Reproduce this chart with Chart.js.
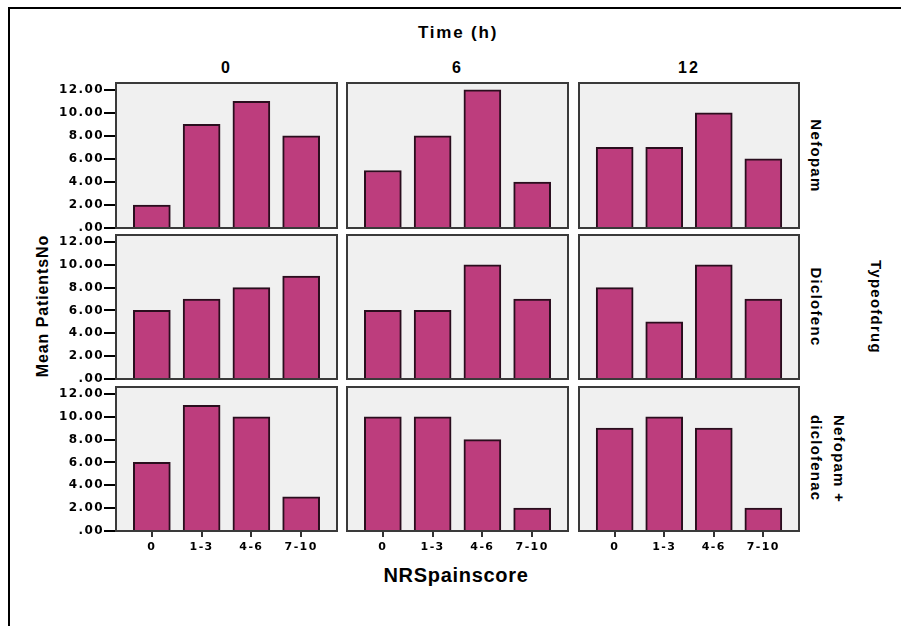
<!DOCTYPE html>
<html><head><meta charset="utf-8">
<script src="https://cdn.jsdelivr.net/npm/chart.js@4"></script>
<style>
html,body{margin:0;padding:0;background:#fff}
body{width:901px;height:626px;overflow:hidden;position:relative;font-family:"Liberation Sans",Arial,sans-serif;font-weight:bold;color:#000}
.frame{position:absolute;left:8px;top:7px;width:900px;height:640px;border-top:2px solid #000;border-left:2px solid #000}
.t{position:absolute;white-space:nowrap;transform:translate(-50%,-50%);line-height:1}
canvas{position:absolute}
</style></head><body>
<div class="frame"></div>
<div id="texts"></div>
<script>
// ---- data ----
const categories = ['0', '1-3', '4-6', '7-10'];
const timeLabels = ['0', '6', '12'];
const drugLabels = ['Nefopam', 'Diclofenc', 'Nefopam +\ndiclofenac'];
const nefopam0 = [2, 9, 11, 8];
const nefopam6 = [5, 8, 12, 4];
const nefopam12 = [7, 7, 10, 6];
const diclofenac0 = [6, 7, 8, 9];
const diclofenac6 = [6, 6, 10, 7];
const diclofenac12 = [8, 5, 10, 7];
const combo0 = [6, 11, 10, 3];
const combo6 = [10, 10, 8, 2];
const combo12 = [9, 10, 9, 2];
const yTicks = [0, 2, 4, 6, 8, 10, 12];
const yTickLabels = ['.00', '2.00', '4.00', '6.00', '8.00', '10.00', '12.00'];
const panelValues = [
  [nefopam0, nefopam6, nefopam12],
  [diclofenac0, diclofenac6, diclofenac12],
  [combo0, combo6, combo12]
];

// ---- layout ----
const colX = [116, 347, 579], colW = [221, 221, 220];
const rowY = [83, 235, 387], rowH = [145, 144, 144];
const PAD = 10, YW = 72, XH = 32;
const BAR = '#bd3d7d', BAR_EDGE = '#2a0e1e';

const panelPlugin = {
  id: 'panel',
  beforeDraw(chart) {
    const c = chart.ctx, a = chart.chartArea;
    c.letterSpacing = '1.4px';
    c.save();
    c.fillStyle = '#f0f0f0';
    c.fillRect(a.left, a.top, a.right - a.left, a.bottom - a.top);
    c.restore();
  },
  afterDraw(chart) {
    const c = chart.ctx, a = chart.chartArea;
    c.save();
    c.strokeStyle = '#3a3a3a';
    c.lineWidth = 2;
    c.strokeRect(a.left, a.top, a.right - a.left, a.bottom - a.top);
    c.restore();
  }
};

for (let r = 0; r < 3; r++) {
  for (let col = 0; col < 3; col++) {
    const cv = document.createElement('canvas');
    const showY = col === 0, showX = r === 2;
    const w = colW[col] + 2 * PAD + (showY ? YW : 0);
    const h = rowH[r] + 2 * PAD + (showX ? XH : 0);
    cv.width = w; cv.height = h;
    cv.style.width = w + 'px'; cv.style.height = h + 'px';
    cv.style.left = (colX[col] - PAD - (showY ? YW : 0)) + 'px';
    cv.style.top = (rowY[r] - PAD) + 'px';
    document.body.appendChild(cv);
    const vals = panelValues[r][col];
    new Chart(cv, {
      type: 'bar',
      data: {
        datasets: [{
          data: vals.map((v, i) => ({ x: i, y: v })),
          backgroundColor: BAR,
          borderColor: BAR_EDGE,
          borderWidth: 2,
          barThickness: 37
        }]
      },
      options: {
        responsive: false,
        animation: false,
        devicePixelRatio: 1,
        layout: { padding: PAD },
        plugins: { legend: { display: false }, tooltip: { enabled: false } },
        scales: {
          x: {
            type: 'linear', min: -0.72, max: 3.72,
            offset: false,
            display: showX,
            afterBuildTicks: s => { s.ticks = categories.map((_, i) => ({ value: i })); },
            afterFit: s => { s.height = showX ? XH : 0; s.paddingLeft = 0; s.paddingRight = 0; },
            ticks: {
              callback: v => categories[v],
              font: { family: 'DejaVu Sans', weight: 'bold', size: 11 },
              color: '#000', padding: 4, autoSkip: false, maxRotation: 0
            },
            grid: { offset: false, drawOnChartArea: false, tickLength: 6, color: '#333', lineWidth: 2 },
            border: { display: false }
          },
          y: {
            min: 0, max: 12.6,
            display: showY,
            afterBuildTicks: s => { s.ticks = yTicks.map(v => ({ value: v })); },
            afterFit: s => { s.width = showY ? YW : 0; s.paddingTop = 0; s.paddingBottom = 0; },
            ticks: {
              callback: (v, i) => yTickLabels[i],
              font: { family: 'DejaVu Sans', weight: 'bold', size: 12 },
              color: '#000', padding: 0
            },
            grid: { drawOnChartArea: false, tickLength: 12, color: '#000', lineWidth: 2 },
            border: { display: false }
          }
        }
      },
      plugins: [panelPlugin]
    });
  }
}

// ---- text ----
const texts = document.getElementById('texts');
function addText(str, x, y, size, spacing, rot, extra) {
  const d = document.createElement('div');
  d.className = 't';
  d.textContent = str;
  d.style.left = x + 'px';
  d.style.top = y + 'px';
  d.style.fontSize = size + 'px';
  d.style.letterSpacing = spacing + 'px';
  d.style.transform = 'translate(-50%,-50%) rotate(' + rot + 'deg)';
  if (extra) Object.assign(d.style, extra);
  texts.appendChild(d);
}
addText('Time (h)', 458, 32, 17, 1.8, 0);
const headerX = [226.5, 457.5, 689];
timeLabels.forEach((t, i) => addText(t, headerX[i], 68, 16, 2, 0));
const rowCenter = [155.5, 307, 459];
drugLabels.forEach((t, i) => {
  if (t.includes('\n')) {
    addText(t, 828, rowCenter[i], 15, 1.2, 90, { whiteSpace: 'pre', lineHeight: '23px', textAlign: 'left' });
  } else {
    addText(t, 816, rowCenter[i], 15, 1.3, 90);
  }
});
addText('Typeofdrug', 876, 307, 15, 1.25, 90);
addText('Mean PatientsNo', 43, 306, 16, 0.9, -90);
addText('NRSpainscore', 456, 575, 20, 0.7, 0);
</script>
</body></html>
